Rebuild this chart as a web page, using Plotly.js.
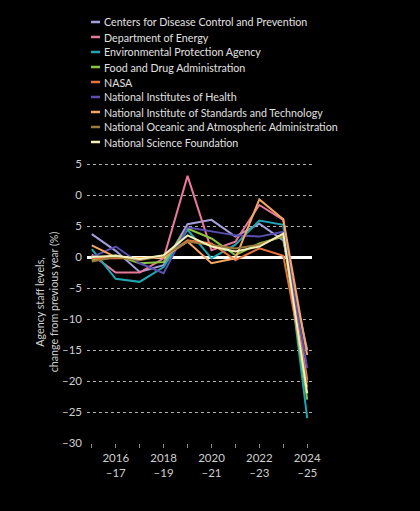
<!DOCTYPE html>
<html>
<head>
<meta charset="utf-8">
<script src="https://cdn.plot.ly/plotly-3.0.1.min.js"></script>
<style>
html, body {margin:0; padding:0; background:#000;}
#chart {width:420px; height:511px;}
</style>
</head>
<body>
<div id="chart"></div>
<script>
// Agency staff levels, change from previous year (%)
var years = [2015, 2016, 2017, 2018, 2019, 2020, 2021, 2022, 2023, 2024];
var agencies = ['Centers for Disease Control and Prevention', 'Department of Energy', 'Environmental Protection Agency',
'Food and Drug Administration', 'NASA', 'National Institutes of Health', 'National Institute of Standards and Technology',
'National Oceanic and Atmospheric Administration', 'National Science Foundation'];
var colors = ['#a4a0dc', '#e9789c', '#1fa6b2', '#8cc440', '#e8733c', '#5a4fb0', '#f6a75f', '#9c7a3c', '#f3efb8'];

var cdc = [3.7, 1.0, -2.4, -1.3, 5.3, 6.0, 3.3, 5.4, 2.7, -15.0];
var doe = [0.4, -2.5, -2.5, -0.2, 13.1, 1.1, 2.5, 8.4, 6.0, -19.8];
var epa = [1.3, -3.5, -4.0, -1.6, 4.4, -0.2, 2.0, 5.9, 5.2, -26.0];
var fda = [-0.5, 0.3, -1.0, -0.8, 4.6, 3.0, 0.3, 2.2, 3.3, -23.0];
var nasa = [-0.2, -0.2, -0.2, 0.0, 2.7, 2.2, -0.5, 1.4, 0.2, -20.3];
var nih = [0.0, 1.7, -1.0, -2.6, 4.8, 4.1, 3.5, 3.3, 4.1, -17.9];
var nist = [1.9, 0.0, -0.2, 0.0, 2.5, -1.0, -0.2, 9.3, 6.1, -15.8];
var noaa = [-0.7, 0.0, -0.5, 0.2, 2.5, 2.0, 1.4, 2.0, 3.5, -21.0];
var nsf = [0.0, 0.2, -0.3, 0.3, 3.5, 1.7, 0.9, 1.7, 3.8, -22.0];
var series = [cdc, doe, epa, fda, nasa, nih, nist, noaa, nsf];

var y_ticks = [-30, -25, -20, -15, -10, -5, 0, 5, 10, 15];
var y_labels = ['–30', '–25', '–20', '–15', '–10', '–5', '0', '5', '0', '5'];
var x_ticks = [2016, 2018, 2020, 2022, 2024];
var x_labels = ['2016<br>–17', '2018<br>–19', '2020<br>–21', '2022<br>–23', '2024<br>–25'];

// plot area in pixels, used to place the hand made legend
var W = 420, H = 511;
var M = {l:87, r:108, t:161, b:68};
function px2x(px){return (px - M.l)/(W - M.l - M.r);}
function py2y(py){return (H - M.b - py)/(H - M.t - M.b);}

var graph_data = [];
for (var i = 0; i < series.length; i++){
graph_data.push({
x: years,
y: series[i],
type: 'scatter',
mode: 'lines',
name: agencies[i],
line: {color: colors[i], width: 2},
showlegend: false
});
}

var shapes = [];
var annotations = [];
for (var k = 0; k < agencies.length; k++){
var py = 22 + 15*k;
shapes.push({type:'line', xref:'paper', yref:'paper', x0:px2x(91), x1:px2x(100), y0:py2y(py), y1:py2y(py),
line:{color:colors[k], width:2.5}});
annotations.push({xref:'paper', yref:'paper', x:px2x(102), y:py2y(py), xanchor:'left', yanchor:'middle',
text:agencies[k], showarrow:false, font:{family:'Lato', size:10.7, color:'#e0e0e0'}});
}

var layout = {
width: W,
height: H,
paper_bgcolor: '#000',
plot_bgcolor: '#000',
margin: M,
font: {family:'Lato', color:'#cfcfcf', size:11},
xaxis: {
range: [2014.8, 2024.2],
tickmode: 'array',
tickvals: x_ticks,
ticktext: x_labels,
ticks: 'outside',
ticklen: 4,
tickcolor: '#888',
showgrid: false,
zeroline: false,
showline: false,
tickfont: {size:11.5, color:'#cfcfcf'},
minor: {tickmode:'linear', tick0:2015, dtick:1, ticks:'outside', ticklen:4, tickcolor:'#888', showgrid:false}
},
yaxis: {
range: [-30, 15.5],
tickmode: 'array',
tickvals: y_ticks,
ticktext: y_labels,
showgrid: true,
gridcolor: '#b0b0b0',
griddash: 'dot',
gridwidth: 1,
zeroline: true,
zerolinecolor: '#ffffff',
zerolinewidth: 2.5,
ticks: '',
ticklabelstandoff: 4,
tickfont: {size:11.5, color:'#cfcfcf'},
title: {text:'Agency staff levels,<br>change from previous year (%)', font:{size:10.7, color:'#cfcfcf'}, standoff:1}
},
shapes: shapes,
annotations: annotations,
showlegend: false
};

var config = {displayModeBar:false, responsive:false};
Plotly.newPlot('chart', graph_data, layout, config);
</script>
</body>
</html>
